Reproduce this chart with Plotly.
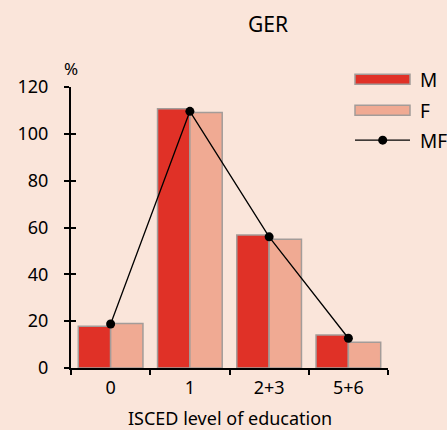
import plotly.graph_objects as go

categories = ["0", "1", "2+3", "5+6"]
male = [17.8, 110.7, 56.8, 14.1]
female = [19.0, 109.1, 55.0, 11.0]
both = [18.8, 109.6, 56.0, 12.7]
y_ticks = [0, 20, 40, 60, 80, 100, 120]

BG = "#fae5da"
RED = "#e03127"
PINK = "#f0aa93"
EDGE = "#a39c99"
FONT = "Noto Sans"

fig = go.Figure()
fig.add_trace(go.Bar(x=categories, y=male, name="M", marker=dict(color=RED, line=dict(color=EDGE, width=1.5)), showlegend=False))
fig.add_trace(go.Bar(x=categories, y=female, name="F", marker=dict(color=PINK, line=dict(color=EDGE, width=1.5)), showlegend=False))
fig.add_trace(go.Scatter(x=categories, y=both, name="MF", mode="lines+markers",
                         line=dict(color="black", width=1.3), marker=dict(color="black", size=9), showlegend=False))

# second y axis only to draw inward tick halves
fig.add_trace(go.Scatter(x=[categories[0]], y=[None], yaxis="y2", showlegend=False, hoverinfo="skip"))

W, H = 447, 430
L, R, T, B = 71, 59, 86.7, 61.5
pw, ph = W - L - R, H - T - B

fig.update_layout(
    width=W, height=H,
    margin=dict(l=L, r=R, t=T, b=B, autoexpand=False),
    paper_bgcolor=BG, plot_bgcolor=BG,
    barmode="group", bargap=0.184, bargroupgap=0,
    font=dict(family=FONT, size=18, color="black"),
    xaxis=dict(type="category", range=[-0.5, 3.5], showline=True, linecolor="black", linewidth=2,
               ticks="outside", tickson="boundaries", ticklen=5, tickwidth=1.5, tickcolor="black",
               showgrid=False, zeroline=False, tickfont=dict(size=18), ticklabelstandoff=2,
               automargin=False),
    yaxis=dict(range=[0, 120], tickvals=y_ticks, showline=True, linecolor="black", linewidth=2,
               ticks="outside", ticklen=5, tickwidth=1.5, tickcolor="black",
               showgrid=False, zeroline=False, tickfont=dict(size=18), ticklabelstandoff=12,
               automargin=False),
    yaxis2=dict(range=[0, 120], tickvals=y_ticks, overlaying="y", side="left", showline=False,
                ticks="inside", ticklen=5, tickwidth=1.5, tickcolor="black",
                showticklabels=False, showgrid=False, zeroline=False, automargin=False),
)

def px_x(p):
    return (p - L) / pw

def px_y(p):
    return (H - B - p) / ph

annotations = [
    dict(text="GER", x=px_x(268), y=px_y(24), xref="paper", yref="paper", showarrow=False,
         xanchor="center", yanchor="middle", font=dict(size=21)),
    dict(text="%", x=px_x(71), y=px_y(68), xref="paper", yref="paper", showarrow=False,
         xanchor="center", yanchor="middle", font=dict(size=17)),
    dict(text="ISCED level of education", x=0.5, y=px_y(419), xref="paper", yref="paper",
         showarrow=False, xanchor="center", yanchor="middle", font=dict(size=18)),
]
shapes = []
legend_items = [("M", RED, 79), ("F", PINK, 110), ("MF", None, 140)]
for name, col, yc in legend_items:
    if col:
        shapes.append(dict(type="rect", xref="paper", yref="paper",
                           x0=px_x(355), x1=px_x(410), y0=px_y(yc - 5), y1=px_y(yc + 5),
                           fillcolor=col, line=dict(color=EDGE, width=1.5)))
    else:
        shapes.append(dict(type="line", xref="paper", yref="paper",
                           x0=px_x(355), x1=px_x(410), y0=px_y(yc), y1=px_y(yc),
                           line=dict(color="black", width=1.3)))
        shapes.append(dict(type="circle", xref="paper", yref="paper",
                           x0=px_x(378.2), x1=px_x(387.2), y0=px_y(yc - 4.5), y1=px_y(yc + 4.5),
                           fillcolor="black", line=dict(color="black", width=0)))
    annotations.append(dict(text=name, x=px_x(418), y=px_y(yc + 1), xref="paper", yref="paper",
                            showarrow=False, xanchor="left", yanchor="middle", font=dict(size=19)))

fig.update_layout(annotations=annotations, shapes=shapes)
fig.write_html("out.html", config={"displayModeBar": False},
               post_script="document.body.style.margin='0';document.body.style.padding='0';"
                           "document.body.style.overflow='hidden';")
